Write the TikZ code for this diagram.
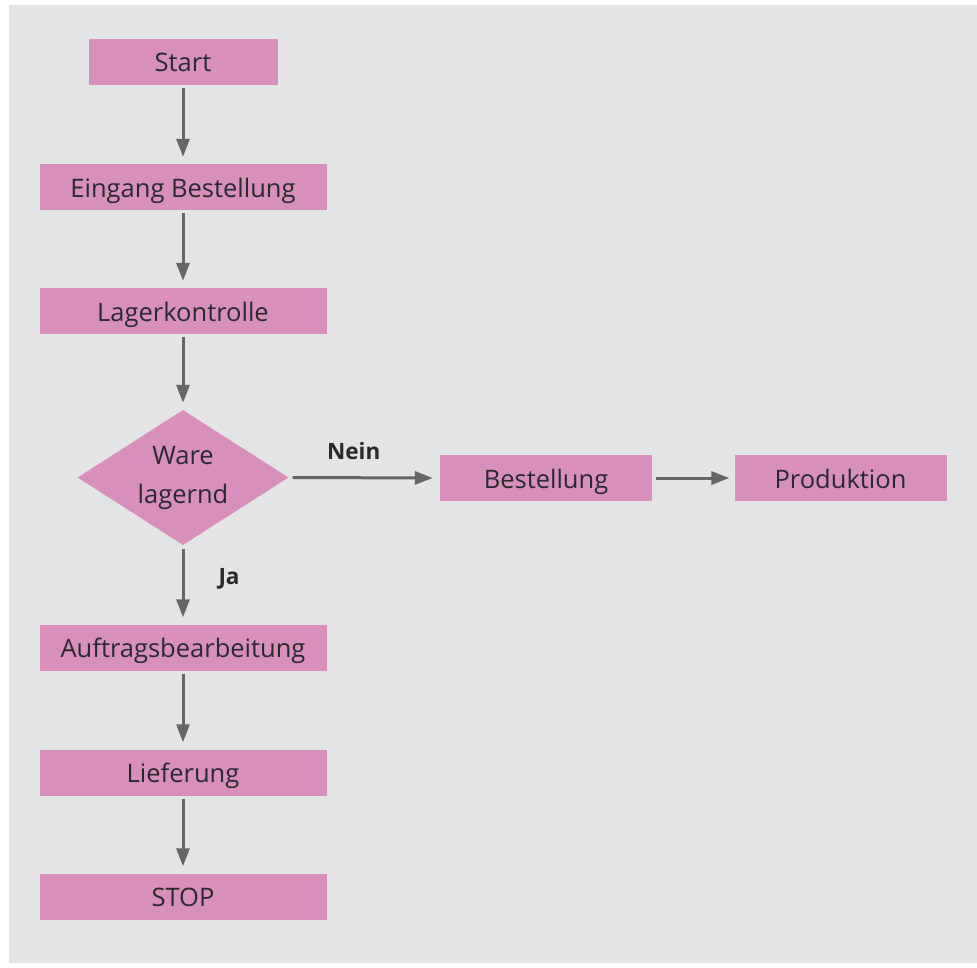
\documentclass[tikz,border=0pt]{standalone}
\usepackage{fontspec}
\setmainfont{Open Sans}
\usetikzlibrary{shapes.geometric,arrows.meta}
\definecolor{bg}{HTML}{E3E4E6}
\definecolor{pinkbox}{HTML}{D88FBB}
\definecolor{arr}{HTML}{666666}
\definecolor{txt}{HTML}{2A2A2D}
\tikzset{
  procbox/.style={fill=pinkbox, minimum width=287pt, minimum height=46pt, inner sep=0pt,
    text height=20pt, text depth=0pt,
    font=\fontsize{25.5}{30}\selectfont, text=txt},
  decbox/.style={diamond, fill=pinkbox, aspect=1.5630, minimum width=211pt, minimum height=135pt,
    inner sep=0pt, align=center, font=\fontsize{25.5}{39}\selectfont, text=txt},
  flowarrow/.style={draw=arr, line width=3pt, -{Triangle[length=18pt,width=13pt]}},
  flowlabel/.style={font=\fontsize{22.5}{26}\selectfont\bfseries, text=txt, inner sep=0pt}
}
\begin{document}
\begin{tikzpicture}[x=1pt,y=-1pt]
\useasboundingbox (0,0) rectangle (977,967);
\fill[white] (0,0) rectangle (977,967);
\fill[bg] (9,5) rectangle (977,963);

\node[procbox, minimum width=189pt] (start) at (183,61.5) {Start};
\node[procbox] (eingang) at (183,187) {Eingang Bestellung};
\node[procbox] (lager) at (183,311) {Lagerkontrolle};
\node[decbox] (ware) at (183,477.5) {Ware\\lagernd};
\node[procbox, minimum width=212pt] (bestell) at (546,478) {Bestellung};
\node[procbox, minimum width=212pt] (prod) at (840.5,478) {Produktion};
\node[procbox] (auftrag) at (183,647.5) {Auftragsbearbeitung};
\node[procbox] (liefer) at (183,772.5) {Lieferung};
\node[procbox] (stop) at (183,896.5) {STOP};

\draw[flowarrow, shorten <=3pt, shorten >=7pt] (start.south) -- (eingang.north);
\draw[flowarrow, shorten <=3pt, shorten >=7pt] (eingang.south) -- (lager.north);
\draw[flowarrow, shorten <=3pt, shorten >=7pt] (lager.south) -- (ware.north);
\draw[flowarrow, shorten <=4pt, shorten >=7pt] (ware.east) -- (bestell.west) node[flowlabel, pos=0.43, above=17pt] {Nein};
\draw[flowarrow, shorten <=4pt, shorten >=5pt] (bestell.east) -- (prod.west);
\draw[flowarrow, shorten <=4pt, shorten >=7pt] (ware.south) -- (auftrag.north) node[flowlabel, pos=0.42, right=34pt] {Ja};
\draw[flowarrow, shorten <=3pt, shorten >=7pt] (auftrag.south) -- (liefer.north);
\draw[flowarrow, shorten <=3pt, shorten >=7pt] (liefer.south) -- (stop.north);
\end{tikzpicture}
\end{document}
